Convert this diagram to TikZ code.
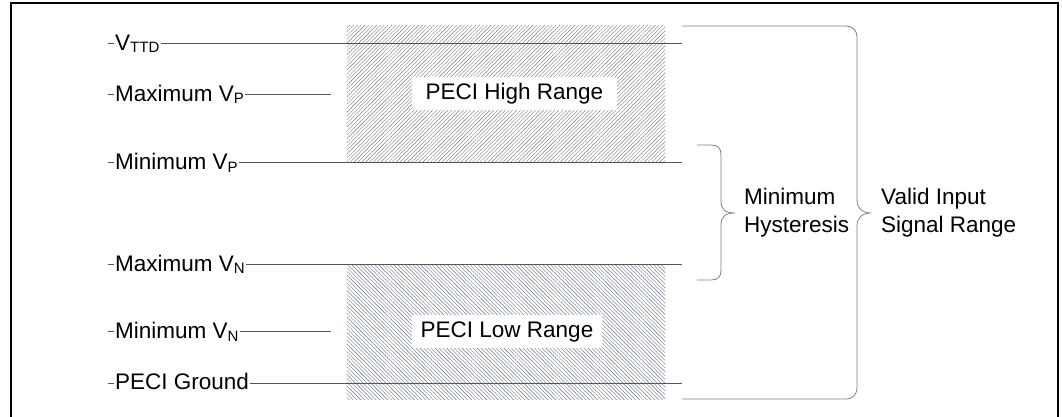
\documentclass[tikz,border=0pt]{standalone}
\usepackage{fontspec}
\setmainfont{Liberation Sans}
\usetikzlibrary{patterns.meta}
\newcommand\sbs[1]{\raisebox{-2.5pt}{\fontsize{15}{15}\selectfont #1}}
\definecolor{lvlgray}{RGB}{85,85,85}
\definecolor{hatchhi}{RGB}{120,120,120}
\definecolor{hatchlo}{RGB}{100,110,130}

\begin{document}
\begin{tikzpicture}[x=1pt, y=-1pt, font=\fontsize{22.5}{28}\selectfont]
    \tikzstyle{every node} = [inner sep=0pt]
    \tikzstyle{lbl} = [anchor=base west, inner xsep=1pt]
    \tikzstyle{lvl} = [draw=lvlgray, line width=0.8pt]
    \tikzstyle{brc} = [draw=gray, line width=0.8pt]
    \tikzstyle{rng} = [fill=white, text height=16.5pt, text depth=4.8pt, inner ysep=6pt, align=center]

    \useasboundingbox (0,0) rectangle (1062,417);
    \draw [line width=1.4pt] (11,420) -- (11,3) -- (1058,3) -- (1058,420);

    \fill [pattern={Lines[angle=45, distance=2.7pt, line width=0.4pt]}, pattern color=hatchhi] (347,26) rectangle (665,162);
    \fill [pattern={Lines[angle=-45, distance=2.7pt, line width=0.4pt]}, pattern color=hatchlo] (347,264) rectangle (665,399);

    \coordinate (t1) at (108, 43);
    \coordinate (t2) at (108, 94);
    \coordinate (t3) at (108, 162);
    \coordinate (t4) at (108, 264);
    \coordinate (t5) at (108, 331);
    \coordinate (t6) at (108, 383);

    \coordinate (e1) at (682, 43);
    \coordinate (e2) at (331, 94);
    \coordinate (e3) at (682, 162);
    \coordinate (e4) at (682, 264);
    \coordinate (e5) at (331, 331);
    \coordinate (e6) at (682, 383);

    \node (a) at (114, 50.5) [lbl] {V\sbs{TTD}};
    \node (b) at (114, 101.5) [lbl] {Maximum V\sbs{P}};
    \node (c) at (114, 169.5) [lbl] {Minimum V\sbs{P}};
    \node (d) at (114, 271) [lbl] {Maximum V\sbs{N}};
    \node (e) at (114, 338.5) [lbl] {Minimum V\sbs{N}};
    \node (f) at (114, 389.5) [lbl] {PECI Ground};

    \draw [lvl] (t1) -- (t1 -| a.west);
    \draw [lvl] (a.east |- t1) -- (e1);
    \draw [lvl] (t2) -- (t2 -| b.west);
    \draw [lvl] (b.east |- t2) -- (e2);
    \draw [lvl] (t3) -- (t3 -| c.west);
    \draw [lvl] (c.east |- t3) -- (e3);
    \draw [lvl] (t4) -- (t4 -| d.west);
    \draw [lvl] (d.east |- t4) -- (e4);
    \draw [lvl] (t5) -- (t5 -| e.west);
    \draw [lvl] (e.east |- t5) -- (e5);
    \draw [lvl] (t6) -- (t6 -| f.west);
    \draw [lvl] (f.east |- t6) -- (e6);

    \node (g) at (514.5, 93.5) [rng, minimum width=205pt] {PECI High Range};
    \node (h) at (507, 331.5) [rng, minimum width=190pt] {PECI Low Range};

    \coordinate (hy1) at (697, 145);
    \coordinate (hy2) at (697, 280);
    \coordinate (hyt) at (735, 213);
    \coordinate (va1) at (682, 26);
    \coordinate (va2) at (682, 399);
    \coordinate (vat) at (871, 213);

    \draw [brc] (hy1) -- (711,145) .. controls (718,145) and (721,148) .. (721,155)
        -- (721,201) .. controls (721,209) and (725,213) .. (hyt)
        .. controls (725,213) and (721,217) .. (721,225)
        -- (721,270) .. controls (721,277) and (718,280) .. (711,280) -- (hy2);
    \draw [brc] (va1) -- (845,26) .. controls (853,26) and (857,30) .. (857,38)
        -- (857,200) .. controls (857,208) and (862,213) .. (vat)
        .. controls (862,213) and (857,218) .. (857,226)
        -- (857,387) .. controls (857,395) and (853,399) .. (845,399) -- (va2);

    \node (i) at (744, 213) [anchor=west, align=left] {Minimum\\Hysteresis};
    \node (j) at (881, 213) [anchor=west, align=left] {Valid Input\\Signal Range};
\end{tikzpicture}
\end{document}
